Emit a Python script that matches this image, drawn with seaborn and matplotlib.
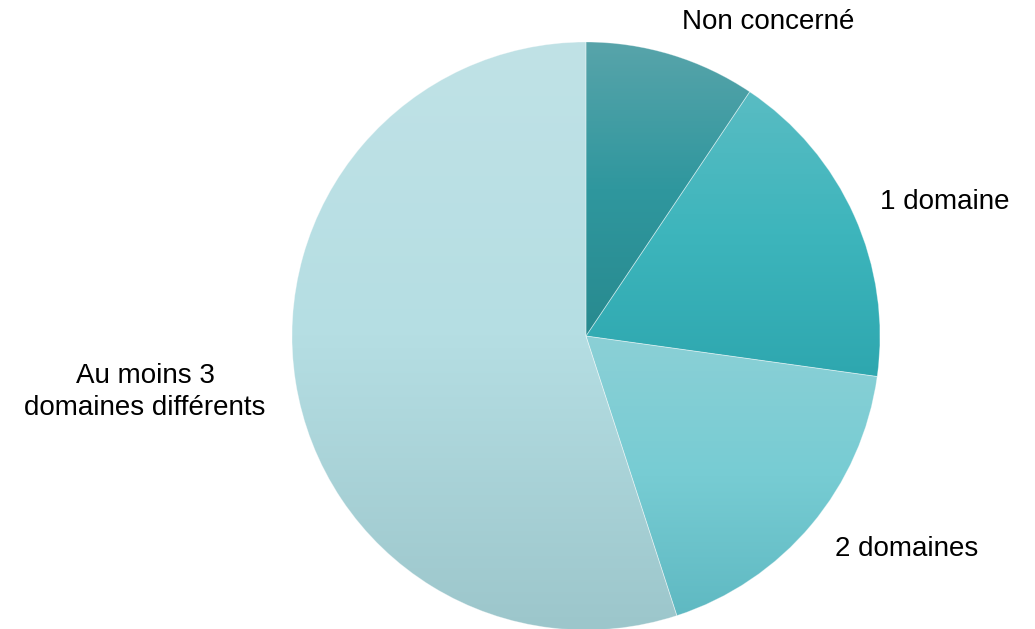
import numpy as np
import matplotlib
matplotlib.use("Agg")
import matplotlib.pyplot as plt
from matplotlib.colors import LinearSegmentedColormap
import seaborn as sns

# data
labels = ["Non concerné", "1 domaine", "2 domaines", "Au moins 3\ndomaines différents"]
shares = [9.4, 17.8, 17.8, 55.0]
# gradient stops per slice (top, middle, bottom)
grad_colors = [
    ["#58a4aa", "#2f979e", "#288a8f"],
    ["#59bcc3", "#3db5bc", "#2ea7af"],
    ["#8bd0d6", "#77ccd3", "#5fb9c2"],
    ["#c0e2e6", "#b5dee3", "#9cc6cb"],
]

sns.set_theme(style="white")
plt.rcParams["font.family"] = ["Liberation Sans", "DejaVu Sans"]

W, H = 1035, 629
fig = plt.figure(figsize=(W / 100, H / 100), dpi=100)
ax = fig.add_axes([0, 0, 1, 1])

cx, cy, r = 586, H - 336, 294
wedges, _ = ax.pie(shares, startangle=90, counterclock=False,
                   center=(cx, cy), radius=r, frame=True,
                   wedgeprops=dict(edgecolor=(1, 1, 1, 0.35), linewidth=0.6))

grad = np.linspace(0, 1, 256).reshape(-1, 1)
for w, cols in zip(wedges, grad_colors):
    bb = w.get_path().get_extents()
    cmap = LinearSegmentedColormap.from_list("g", cols)
    w.set_facecolor("none")
    im = ax.imshow(grad, cmap=cmap, aspect="auto", origin="upper",
                   extent=[bb.x0, bb.x1, bb.y0, bb.y1], zorder=0.5,
                   interpolation="bilinear")
    im.set_clip_path(w)

ax.set_xlim(0, W)
ax.set_ylim(0, H)
ax.set_aspect("equal")
ax.axis("off")

# labels
lab_pos = [(768, H - 22), (945, H - 202), (907, H - 549), (145, H - 392)]
for lab, (x, y) in zip(labels, lab_pos):
    ax.text(x, y, lab, fontsize=20, ha="center", va="center", color="#000000",
            linespacing=1.3)

fig.savefig("out.png", dpi=100)
